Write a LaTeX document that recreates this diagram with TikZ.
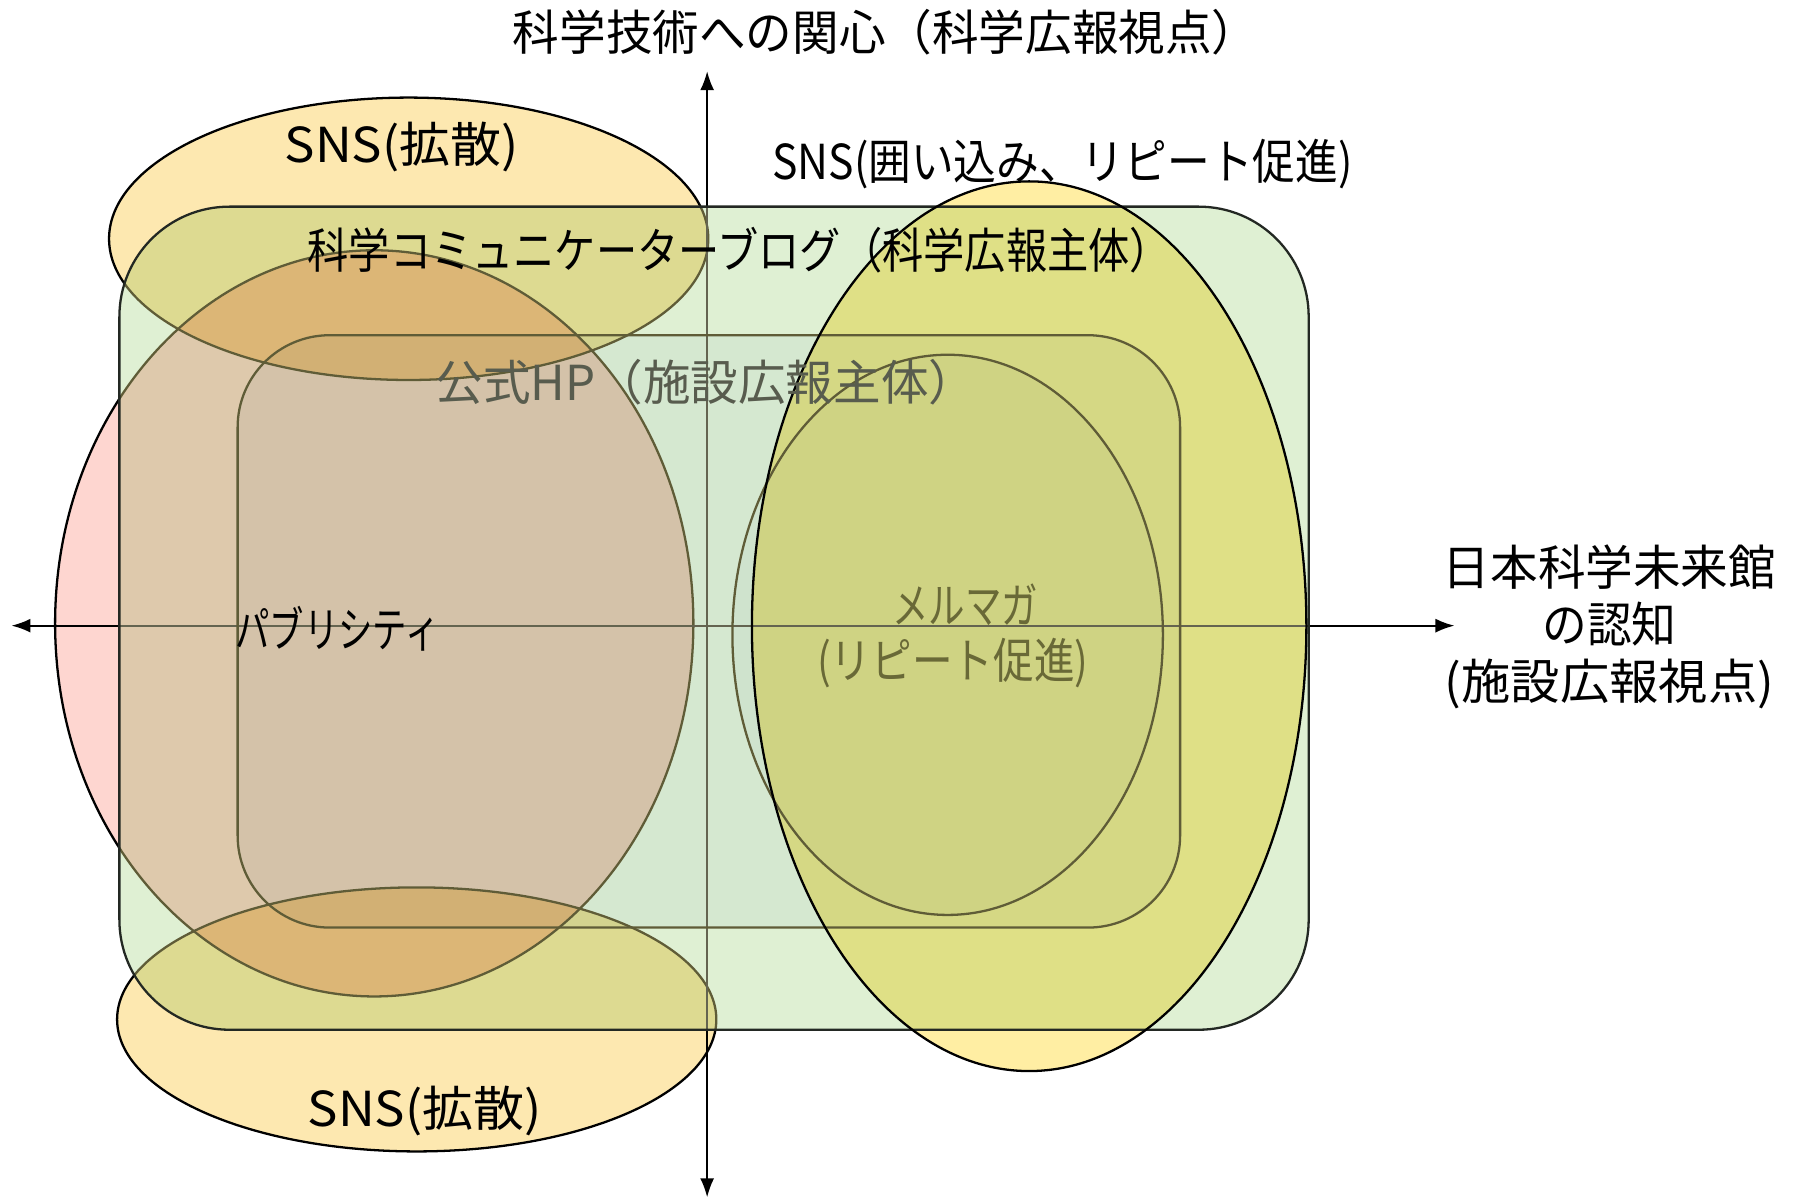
\documentclass[tikz,border=0pt]{standalone}
\usepackage{fontspec}
\setmainfont{Noto Sans CJK JP}
\usepackage{graphicx}
\usetikzlibrary{arrows.meta}

\definecolor{gfill}{RGB}{223,240,211}
\definecolor{yfill}{RGB}{253,232,176}
\definecolor{ryfill}{RGB}{255,238,163}
\definecolor{pfill}{RGB}{254,214,208}
\definecolor{ifill}{RGB}{244,247,252}
\definecolor{mfill}{RGB}{248,250,252}
\definecolor{dimline}{RGB}{95,92,55}
\definecolor{dimaxis}{RGB}{100,100,80}
\definecolor{rectline}{RGB}{35,40,35}
\definecolor{dimtext}{RGB}{88,92,78}
\definecolor{mtext}{RGB}{105,105,55}

\newcommand\fw[2]{\resizebox{#1}{\height}{#2}}

\def\shGreen{(104,180) rectangle (1140,897)}
\def\shInner{(207,292) rectangle (1028,808)}
\def\shPink{(326,543) ellipse [x radius=278, y radius=325]}
\def\shTop{(356,208) ellipse [x radius=261, y radius=123]}
\def\shBot{(363,888) ellipse [x radius=261, y radius=115]}
\def\shRight{(896.5,545.5) ellipse [x radius=241.5, y radius=387.5]}
\def\shMel{(825.5,553) ellipse [x radius=187.5, y radius=244]}

\begin{document}
\begin{tikzpicture}[x=0.01148cm, y=-0.01148cm,
  txt/.style={inner sep=0pt, outer sep=0pt, font=\fontsize{13.7}{16.3}\selectfont, text=black},
  dimtxt/.style={txt, text=dimtext},
  meltxt/.style={txt, text=mtext},
  axisline/.style={line width=0.55pt, black},
  axisdim/.style={line width=0.55pt, draw=dimaxis},
  bord/.style={line width=0.65pt, draw=black},
  bdim/.style={line width=0.65pt, draw=dimline},
  grc/.style={rounded corners=1.1cm},
  irc/.style={rounded corners=0.92cm},
  tip/.tip={Latex[length=1.9mm,width=1.4mm]}
]
\useasboundingbox[fill=white] (0,0) rectangle (1568,1046);

% axis end points
\coordinate (xl) at (10,545);
\coordinate (xr) at (1267,545);
\coordinate (yt) at (616,62);
\coordinate (yb) at (616,1043);

% fills (multiply)
\begin{scope}[blend mode=multiply]
  \fill[gfill, grc] \shGreen;
  \fill[ifill, irc] \shInner;
  \fill[pfill] \shPink;
  \fill[mfill] \shMel;
  \fill[yfill] \shTop;
  \fill[yfill] \shBot;
  \fill[ryfill] \shRight;
\end{scope}

% outlines outside the big rounded rectangle: black
\begin{scope}
  \clip[grc] (-60,-60) rectangle (1640,1110) (1140,180) rectangle (104,897);
  \draw[bord] \shPink;
  \draw[bord] \shTop;
  \draw[bord] \shBot;
  \draw[axisline, tip-tip] (xl) -- (xr);
  \draw[axisline, tip-tip] (yb) -- (yt);
\end{scope}

% outlines inside the big rounded rectangle: dimmed
\begin{scope}
  \clip[grc] \shGreen;
  \draw[bdim] \shPink;
  \draw[bdim] \shTop;
  \draw[bdim] \shBot;
  \draw[axisdim] (xl) -- (xr);
  \draw[axisdim] (yb) -- (yt);
\end{scope}

\draw[bdim, irc] \shInner;
\draw[bdim] \shMel;
\draw[line width=0.65pt, draw=rectline, grc] \shGreen;
\draw[bord] \shRight;

% texts
\node[txt] (title) at (771.5,28) {\fw{7.45cm}{科学技術への関心（科学広報視点）}};
\node[txt, align=center] (xlabel) at (1402,546) {\fw{3.33cm}{日本科学未来館}\\\fw{1.34cm}{の認知}\\\fw{3.29cm}{(施設広報視点)}};
\node[txt] (snstop) at (350,128) {\fw{2.34cm}{SNS(拡散)}};
\node[txt] (snsright) at (925.5,143) {\fw{5.80cm}{SNS(囲い込み、リピート促進)}};
\node[txt] (blog) at (644,218) {\fw{8.63cm}{科学コミュニケーターブログ（科学広報主体）}};
\node[dimtxt] (hp) at (615,333) {\fw{5.40cm}{公式HP（施設広報主体）}};
\node[txt] (pub) at (294,548) {\fw{2.04cm}{パブリシティ}};
\node[meltxt] (mel) at (841,527) {\fw{1.46cm}{メルマガ}};
\node[meltxt] (melsub) at (830,578) {\fw{2.71cm}{(リピート促進)}};
\node[txt] (snsbot) at (370,968) {\fw{2.34cm}{SNS(拡散)}};
\end{tikzpicture}
\end{document}
